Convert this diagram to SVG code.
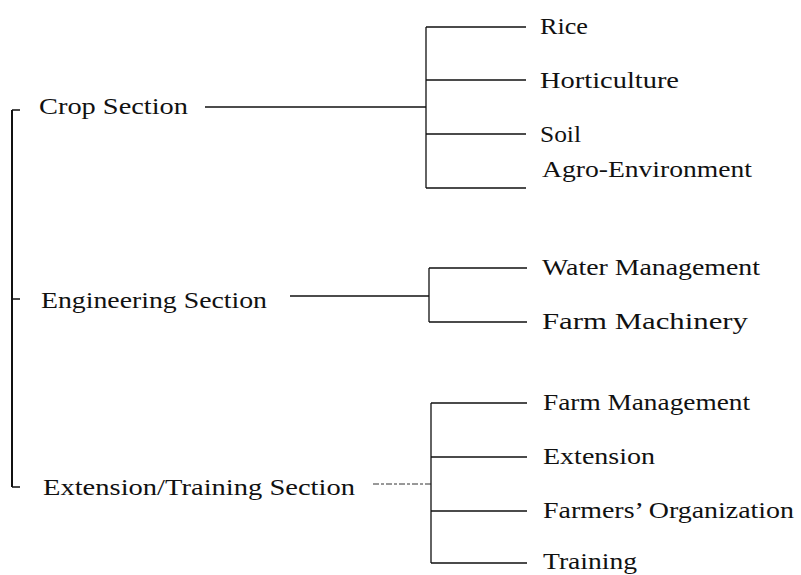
<svg xmlns="http://www.w3.org/2000/svg" width="801" height="575" viewBox="0 0 801 575">
  <style>
    .ln { stroke: #111; stroke-width: 1.3; fill: none; }
    .spine { stroke: #111; stroke-width: 2; fill: none; }
    .faint { stroke: #333; stroke-width: 1; fill: none; stroke-dasharray: 6 2 3 2; }
    text { font-family: "Liberation Serif", "DejaVu Serif", serif; font-size: 24px; fill: #111; }
  </style>
  <rect width="801" height="575" fill="#fff"/>

  <!-- connectors -->
  <g id="connectors">
    <!-- main bracket joining the three sections -->
    <path class="spine" d="M12,110 V487"/>
    <path class="ln" d="M12,110 H20 M12,299 H20 M12,487 H20"/>
    <!-- crop section -->
    <path class="ln" d="M205,107 H426"/>
    <path class="ln" d="M426,27 V188 M426,27 H526 M426,80 H526 M426,134 H526 M426,188 H526"/>
    <!-- engineering section -->
    <path class="ln" d="M290,296 H429"/>
    <path class="ln" d="M429,268 V322 M429,268 H527 M429,322 H527"/>
    <!-- extension/training section -->
    <path class="faint" d="M373,484 H431"/>
    <path class="ln" d="M431,403 V563 M431,403 H527 M431,457 H527 M431,511 H527 M431,563 H527"/>
  </g>

  <!-- sections -->
  <g id="crop-section"><text x="39" y="114" textLength="149" lengthAdjust="spacingAndGlyphs">Crop Section</text></g>
  <g id="engineering-section"><text x="41" y="308" textLength="226" lengthAdjust="spacingAndGlyphs">Engineering Section</text></g>
  <g id="extension-training-section"><text x="43" y="495" textLength="312" lengthAdjust="spacingAndGlyphs">Extension/Training Section</text></g>

  <!-- crop units -->
  <g id="rice"><text x="540" y="34" textLength="48" lengthAdjust="spacingAndGlyphs">Rice</text></g>
  <g id="horticulture"><text x="540" y="88" textLength="139" lengthAdjust="spacingAndGlyphs">Horticulture</text></g>
  <g id="soil"><text x="540" y="142" textLength="41" lengthAdjust="spacingAndGlyphs">Soil</text></g>
  <g id="agro-environment"><text x="542" y="177" textLength="210" lengthAdjust="spacingAndGlyphs">Agro-Environment</text></g>

  <!-- engineering units -->
  <g id="water-management"><text x="542" y="275" textLength="218" lengthAdjust="spacingAndGlyphs">Water Management</text></g>
  <g id="farm-machinery"><text x="542" y="329" textLength="206" lengthAdjust="spacingAndGlyphs">Farm Machinery</text></g>

  <!-- extension/training units -->
  <g id="farm-management"><text x="543" y="410" textLength="207" lengthAdjust="spacingAndGlyphs">Farm Management</text></g>
  <g id="extension"><text x="543" y="464" textLength="112" lengthAdjust="spacingAndGlyphs">Extension</text></g>
  <g id="farmers-organization"><text x="543" y="518" textLength="251" lengthAdjust="spacingAndGlyphs">Farmers’ Organization</text></g>
  <g id="training"><text x="543" y="569" textLength="94" lengthAdjust="spacingAndGlyphs">Training</text></g>
</svg>
